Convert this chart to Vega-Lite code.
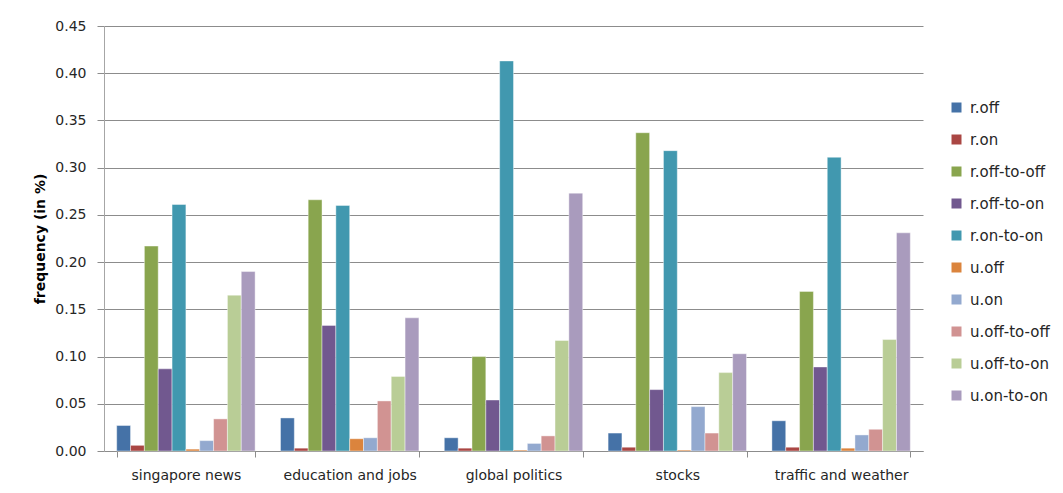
{
  "$schema": "https://vega.github.io/schema/vega-lite/v6.json",
  "autosize": {"type": "none"},
  "width": 819,
  "height": 425,
  "padding": {"left": 104, "top": 26, "right": 140, "bottom": 42},
  "background": "white",
  "data": {
    "values": [
      {"topic": "singapore news", "series": "r.off", "value": 0.027},
      {"topic": "singapore news", "series": "r.on", "value": 0.006},
      {"topic": "singapore news", "series": "r.off-to-off", "value": 0.217},
      {"topic": "singapore news", "series": "r.off-to-on", "value": 0.087},
      {"topic": "singapore news", "series": "r.on-to-on", "value": 0.261},
      {"topic": "singapore news", "series": "u.off", "value": 0.002},
      {"topic": "singapore news", "series": "u.on", "value": 0.011},
      {"topic": "singapore news", "series": "u.off-to-off", "value": 0.034},
      {"topic": "singapore news", "series": "u.off-to-on", "value": 0.165},
      {"topic": "singapore news", "series": "u.on-to-on", "value": 0.190},

      {"topic": "education and jobs", "series": "r.off", "value": 0.035},
      {"topic": "education and jobs", "series": "r.on", "value": 0.003},
      {"topic": "education and jobs", "series": "r.off-to-off", "value": 0.266},
      {"topic": "education and jobs", "series": "r.off-to-on", "value": 0.133},
      {"topic": "education and jobs", "series": "r.on-to-on", "value": 0.260},
      {"topic": "education and jobs", "series": "u.off", "value": 0.013},
      {"topic": "education and jobs", "series": "u.on", "value": 0.014},
      {"topic": "education and jobs", "series": "u.off-to-off", "value": 0.053},
      {"topic": "education and jobs", "series": "u.off-to-on", "value": 0.079},
      {"topic": "education and jobs", "series": "u.on-to-on", "value": 0.141},

      {"topic": "global politics", "series": "r.off", "value": 0.014},
      {"topic": "global politics", "series": "r.on", "value": 0.003},
      {"topic": "global politics", "series": "r.off-to-off", "value": 0.100},
      {"topic": "global politics", "series": "r.off-to-on", "value": 0.054},
      {"topic": "global politics", "series": "r.on-to-on", "value": 0.413},
      {"topic": "global politics", "series": "u.off", "value": 0.001},
      {"topic": "global politics", "series": "u.on", "value": 0.008},
      {"topic": "global politics", "series": "u.off-to-off", "value": 0.016},
      {"topic": "global politics", "series": "u.off-to-on", "value": 0.117},
      {"topic": "global politics", "series": "u.on-to-on", "value": 0.273},

      {"topic": "stocks", "series": "r.off", "value": 0.019},
      {"topic": "stocks", "series": "r.on", "value": 0.004},
      {"topic": "stocks", "series": "r.off-to-off", "value": 0.337},
      {"topic": "stocks", "series": "r.off-to-on", "value": 0.065},
      {"topic": "stocks", "series": "r.on-to-on", "value": 0.318},
      {"topic": "stocks", "series": "u.off", "value": 0.001},
      {"topic": "stocks", "series": "u.on", "value": 0.047},
      {"topic": "stocks", "series": "u.off-to-off", "value": 0.019},
      {"topic": "stocks", "series": "u.off-to-on", "value": 0.083},
      {"topic": "stocks", "series": "u.on-to-on", "value": 0.103},

      {"topic": "traffic and weather", "series": "r.off", "value": 0.032},
      {"topic": "traffic and weather", "series": "r.on", "value": 0.004},
      {"topic": "traffic and weather", "series": "r.off-to-off", "value": 0.169},
      {"topic": "traffic and weather", "series": "r.off-to-on", "value": 0.089},
      {"topic": "traffic and weather", "series": "r.on-to-on", "value": 0.311},
      {"topic": "traffic and weather", "series": "u.off", "value": 0.003},
      {"topic": "traffic and weather", "series": "u.on", "value": 0.017},
      {"topic": "traffic and weather", "series": "u.off-to-off", "value": 0.023},
      {"topic": "traffic and weather", "series": "u.off-to-on", "value": 0.118},
      {"topic": "traffic and weather", "series": "u.on-to-on", "value": 0.231}
    ]
  },
  "mark": {"type": "bar", "stroke": "#ffffff", "strokeWidth": 0.6, "strokeOpacity": 0.7},
  "encoding": {
    "x": {
      "field": "topic",
      "type": "nominal",
      "sort": ["singapore news", "education and jobs", "global politics", "stocks", "traffic and weather"],
      "scale": {"paddingInner": 0.155, "paddingOuter": 0.0775},
      "axis": {
        "title": null,
        "labelAngle": 0,
        "labelFont": "DejaVu Sans",
        "labelFontSize": 14,
        "labelColor": "#262626",
        "labelPadding": 11,
        "tickBand": "extent",
        "tickSize": 6,
        "tickColor": "#8c8c8c",
        "domainColor": "#8c8c8c",
        "grid": false
      }
    },
    "xOffset": {
      "field": "series",
      "type": "nominal",
      "sort": ["r.off", "r.on", "r.off-to-off", "r.off-to-on", "r.on-to-on", "u.off", "u.on", "u.off-to-off", "u.off-to-on", "u.on-to-on"],
      "scale": {"paddingInner": 0, "paddingOuter": 0}
    },
    "y": {
      "field": "value",
      "type": "quantitative",
      "scale": {"domain": [0, 0.45], "nice": false},
      "axis": {
        "title": "frequency (in %)",
        "titleFont": "DejaVu Sans",
        "titleFontSize": 14,
        "titleFontWeight": "bold",
        "titleColor": "#000000",
        "titlePadding": 7,
        "values": [0, 0.05, 0.1, 0.15, 0.2, 0.25, 0.3, 0.35, 0.4, 0.45],
        "format": ".2f",
        "labelFont": "DejaVu Sans",
        "labelFontSize": 14,
        "labelColor": "#262626",
        "labelPadding": 11,
        "tickSize": 7,
        "tickColor": "#8c8c8c",
        "domainColor": "#a6a6a6",
        "grid": true,
        "gridColor": "#8c8c8c",
        "gridWidth": 1
      }
    },
    "color": {
      "field": "series",
      "type": "nominal",
      "sort": ["r.off", "r.on", "r.off-to-off", "r.off-to-on", "r.on-to-on", "u.off", "u.on", "u.off-to-off", "u.off-to-on", "u.on-to-on"],
      "scale": {
        "domain": ["r.off", "r.on", "r.off-to-off", "r.off-to-on", "r.on-to-on", "u.off", "u.on", "u.off-to-off", "u.off-to-on", "u.on-to-on"],
        "range": ["#4572A7", "#AA4643", "#89A54E", "#71588F", "#4198AF", "#DB843D", "#93A9CF", "#D19392", "#B9CD96", "#A99BBD"]
      },
      "legend": {
        "title": null,
        "orient": "none",
        "legendX": 845,
        "legendY": 74,
        "symbolType": "square",
        "symbolSize": 100,
        "symbolStrokeWidth": 0,
        "labelFont": "DejaVu Sans",
        "labelFontSize": 15,
        "labelColor": "#262626",
        "labelOffset": 6,
        "rowPadding": 16
      }
    }
  },
  "config": {
    "view": {"stroke": null}
  }
}
